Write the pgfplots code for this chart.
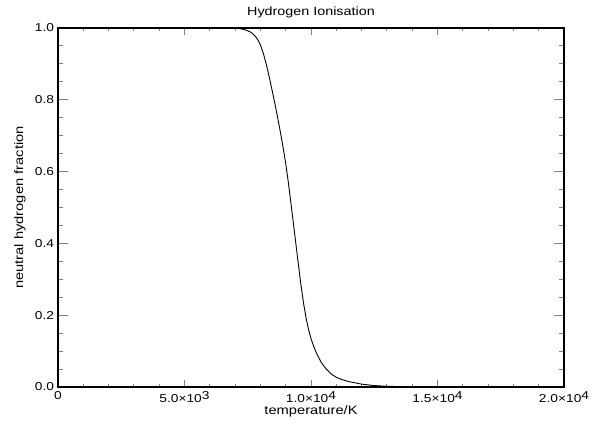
\documentclass[border=0pt]{standalone}
\usepackage{pgfplots}
\pgfplotsset{compat=1.18}
\usepackage{fontspec}
\setmainfont{Liberation Sans}[FakeStretch=1.2]
\begin{document}
\begin{tikzpicture}[x=1bp,y=1bp]
\path[use as bounding box] (-58,-38) rectangle (542,387);
\begin{axis}[
  at={(0,0)}, anchor=south west,
  scale only axis, width=506bp, height=359bp,
  xmin=0, xmax=20000, ymin=0, ymax=1,
  scaled x ticks=false, scaled y ticks=false,
  axis line style={line width=1.1bp},
  xtick={0,5000,10000,15000,20000},
  xticklabels={0, 5.0×10\raisebox{0.55ex}{3}, 1.0×10\raisebox{0.55ex}{4}, 1.5×10\raisebox{0.55ex}{4}, 2.0×10\raisebox{0.55ex}{4}},
  ytick={0,0.2,0.4,0.6,0.8,1.0},
  yticklabels={0.0,0.2,0.4,0.6,0.8,1.0},
  minor x tick num=4, minor y tick num=3,
  tick align=inside, tick pos=both,
  xtick style={/pgfplots/major tick length=6.7bp,/pgfplots/minor tick length=3.4bp, line width=0.9bp},
  ytick style={/pgfplots/major tick length=10bp,/pgfplots/minor tick length=5bp, line width=0.9bp},
  every tick label/.append style={font=\fontsize{11.5}{12}\selectfont},
  xticklabel style={yshift=-1bp},
  yticklabel style={xshift=-0.5bp},
  label style={font=\fontsize{12.3}{13}\selectfont},
  xlabel={temperature/K},
  ylabel={neutral hydrogen fraction},
  xlabel style={at={(axis description cs:0.5,0)}, anchor=north, yshift=-15bp},
  ylabel style={at={(axis description cs:-0.075,0.5)}, anchor=center, rotate=0},
  title={Hydrogen Ionisation},
  title style={font=\fontsize{12}{13}\selectfont, at={(axis description cs:0.5,1)}, anchor=south, yshift=1bp},
]
\addplot[black, line width=0.9bp] coordinates {
(0,1.0) (6000,1.0) (6800,0.9998) (7000,0.9993) (7200,0.998) (7400,0.995) (7600,0.989) (7700,0.984) (7800,0.977) (7900,0.967)
(8000,0.953) (8100,0.933) (8200,0.908) (8300,0.879) (8400,0.847) (8500,0.814) (8600,0.780) (8700,0.744) (8800,0.706)
(8900,0.666) (9000,0.623) (9100,0.572) (9200,0.516) (9300,0.458) (9400,0.400)
(9500,0.342) (9600,0.286) (9700,0.236) (9800,0.194) (9900,0.161)
(10000,0.135) (10100,0.114) (10200,0.097) (10400,0.069) (10600,0.050) (10800,0.036)
(11000,0.027) (11250,0.020) (11500,0.015) (12000,0.008) (12500,0.004)
(13000,0.002) (14000,0.0005) (15000,0.0001) (16000,0.0) (20000,0.0)
};
\end{axis}
\end{tikzpicture}
\end{document}
